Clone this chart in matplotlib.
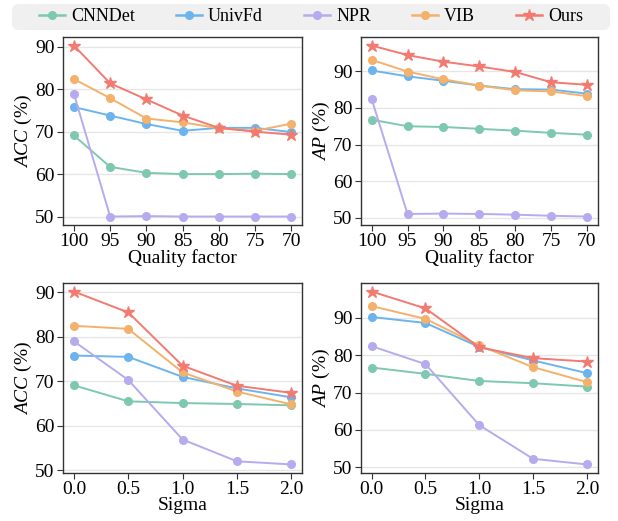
import numpy as np
import matplotlib
matplotlib.use("Agg")
import matplotlib.pyplot as plt
from matplotlib.lines import Line2D
from matplotlib.patches import FancyBboxPatch
from matplotlib.transforms import IdentityTransform

plt.rcParams['font.family'] = ['Liberation Serif', 'DejaVu Serif']
plt.rcParams['mathtext.fontset'] = 'custom'
plt.rcParams['mathtext.it'] = 'Liberation Serif:italic'
plt.rcParams['mathtext.rm'] = 'Liberation Serif'

methods = ["CNNDet", "UnivFd", "NPR", "VIB", "Ours"]
colors = ["#7ec8b1", "#6cb4ee", "#b8aaee", "#f4b16c", "#f27a70"]
markers = ["o", "o", "o", "o", "*"]

quality = [100, 95, 90, 85, 80, 75, 70]
sigma = [0.0, 0.5, 1.0, 1.5, 2.0]

# JPEG compression
acc_quality = {
    "CNNDet": [69.1, 61.7, 60.3, 60.0, 60.0, 60.1, 60.0],
    "UnivFd": [75.8, 73.8, 71.8, 70.2, 70.9, 70.9, 69.9],
    "NPR":    [78.9, 50.0, 50.1, 50.0, 50.0, 50.0, 50.0],
    "VIB":    [82.4, 77.9, 73.1, 72.2, 70.8, 70.2, 71.9],
    "Ours":   [90.3, 81.4, 77.6, 73.8, 70.9, 70.0, 69.3],
}
ap_quality = {
    "CNNDet": [76.8, 75.0, 74.8, 74.3, 73.8, 73.2, 72.7],
    "UnivFd": [90.2, 88.6, 87.4, 86.1, 85.1, 85.0, 83.9],
    "NPR":    [82.4, 51.1, 51.2, 51.1, 50.9, 50.6, 50.4],
    "VIB":    [93.1, 89.9, 87.8, 86.1, 84.8, 84.5, 83.2],
    "Ours":   [97.0, 94.4, 92.6, 91.3, 89.8, 87.0, 86.3],
}
# Gaussian blur
acc_sigma = {
    "CNNDet": [69.1, 65.5, 65.1, 64.9, 64.6],
    "UnivFd": [75.8, 75.5, 71.0, 68.4, 66.4],
    "NPR":    [79.0, 70.3, 56.9, 52.0, 51.3],
    "VIB":    [82.5, 81.8, 72.0, 67.7, 64.8],
    "Ours":   [90.2, 85.5, 73.5, 69.0, 67.4],
}
ap_sigma = {
    "CNNDet": [76.7, 75.0, 73.1, 72.5, 71.6],
    "UnivFd": [90.2, 88.6, 82.2, 78.6, 75.2],
    "NPR":    [82.4, 77.6, 61.3, 52.3, 50.8],
    "VIB":    [93.1, 89.7, 82.6, 76.8, 72.8],
    "Ours":   [97.0, 92.5, 82.1, 79.2, 78.3],
}

fig = plt.figure(figsize=(6.18, 5.21), dpi=100)

panels = [
    ([0.102, 0.568, 0.387, 0.361], quality, acc_quality, r"$ACC$ (%)", "Quality factor", True),
    ([0.584, 0.568, 0.383, 0.361], quality, ap_quality, r"$AP$ (%)", "Quality factor", True),
    ([0.102, 0.092, 0.387, 0.365], sigma, acc_sigma, r"$ACC$ (%)", "Sigma", False),
    ([0.584, 0.092, 0.383, 0.365], sigma, ap_sigma, r"$AP$ (%)", "Sigma", False),
]

def msize(mk):
    return 9 if mk == "*" else 5.5

for rect, xs, data, ylab, xlab, invert in panels:
    ax = fig.add_axes(rect)
    for m, c, mk in zip(methods, colors, markers):
        ax.plot(xs, data[m], color=c, marker=mk, markersize=msize(mk),
                linewidth=1.4, zorder=3)
    ax.set_yticks([50, 60, 70, 80, 90])
    ax.set_xticks(xs)
    if invert:
        ax.invert_xaxis()
    else:
        ax.set_xticklabels([f"{v:.1f}" for v in xs])
    ax.grid(axis='y', color='#e6e6e6', linewidth=1.0, zorder=0)
    ax.set_axisbelow(True)
    for sp in ax.spines.values():
        sp.set_color('#333333')
        sp.set_linewidth(1.0)
    ax.tick_params(labelsize=14, length=4, color='#333333', pad=2)
    ax.set_ylabel(ylab, fontsize=14, labelpad=1)
    ax.set_xlabel(xlab, fontsize=14, labelpad=-1)

# grey rounded band behind the legend (pixel coordinates)
band = FancyBboxPatch((12, 491), 598, 26, boxstyle="round,pad=0,rounding_size=7",
                      transform=IdentityTransform(), facecolor='#f0f0f0',
                      edgecolor='none', zorder=0)
fig.patches.append(band)

handles = [Line2D([0], [0], color=c, marker=mk, markersize=msize(mk),
                  linewidth=1.8) for c, mk in zip(colors, markers)]
leg = fig.legend(handles, methods, loc='center', bbox_to_anchor=(0.503, 0.9675),
                 ncol=5, fontsize=13, frameon=False,
                 handlelength=1.45, handletextpad=0.35, columnspacing=2.25,
                 borderpad=0, borderaxespad=0)

plt.savefig("out.png", dpi=100)
